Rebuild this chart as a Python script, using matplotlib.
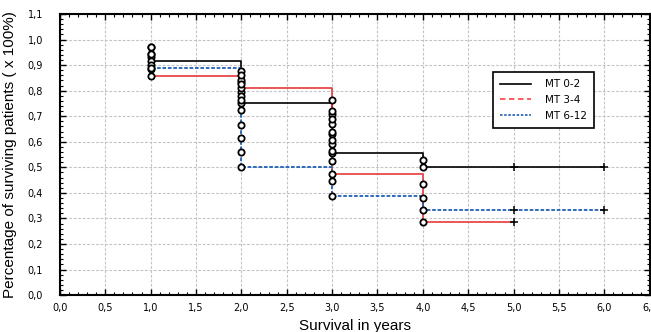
import matplotlib
matplotlib.use('Agg')
import matplotlib.pyplot as plt
from matplotlib.ticker import MultipleLocator, FuncFormatter

# step curves (time in years, survival fraction)
t_steps = [1, 1, 2, 3, 4]
mt02 = [0.97, 0.915, 0.753, 0.555, 0.5]
mt34 = [0.885, 0.857, 0.81, 0.475, 0.285]
mt612 = [0.97, 0.888, 0.5, 0.388, 0.333]
end_02, end_34, end_612 = 6.0, 5.0, 6.0

# observed events (circles)
ev02_t = [1, 1, 1, 1, 2, 2, 2, 2, 3, 3, 3, 3, 3, 4, 4]
ev02_s = [0.97, 0.945, 0.93, 0.915, 0.875, 0.835, 0.795, 0.753,
          0.71, 0.67, 0.63, 0.59, 0.555, 0.53, 0.5]
ev34_t = [1, 1, 2, 2, 3, 3, 3, 3, 3, 3, 3, 3, 4, 4, 4]
ev34_s = [0.885, 0.857, 0.843, 0.81, 0.765, 0.72, 0.69, 0.64, 0.608,
          0.565, 0.525, 0.475, 0.435, 0.38, 0.285]
ev612_t = [1, 1, 1, 1, 2, 2, 2, 2, 2, 2, 2, 2, 2, 3, 3, 4]
ev612_s = [0.97, 0.945, 0.9, 0.888, 0.86, 0.827, 0.78, 0.765, 0.725,
           0.667, 0.616, 0.561, 0.5, 0.447, 0.388, 0.333]

# censored (+)
cens_t = [5, 6, 5, 6, 5]
cens_s = [0.5, 0.5, 0.333, 0.333, 0.285]

labels = ['MT 0-2', 'MT 3-4', 'MT 6-12']

fig = plt.figure(figsize=(6.51, 3.32), dpi=100)
ax = fig.add_axes([0.092, 0.111, 0.906, 0.847])

ax.plot(t_steps + [end_02], mt02 + [mt02[-1]], drawstyle='steps-post',
        color='black', lw=1.2, zorder=3)
ax.plot(t_steps + [end_34], mt34 + [mt34[-1]], drawstyle='steps-post',
        color='#e83a3a', lw=1.2, zorder=3)
ax.plot(t_steps + [end_612], mt612 + [mt612[-1]], drawstyle='steps-post',
        color='#1f5fb5', lw=1.3, ls=(0, (2, 1)), zorder=4)

for tt, ss in [(ev02_t, ev02_s), (ev34_t, ev34_s), (ev612_t, ev612_s)]:
    ax.plot(tt, ss, 'o', ms=4.5, mfc='white', mec='black', mew=1.3, zorder=5)
ax.plot(cens_t, cens_s, '+', ms=6, color='black', mew=1.1, zorder=5)

# legend proxies
h1, = ax.plot([], [], color='black', lw=1.2)
h2, = ax.plot([], [], color='#ff4d4d', lw=1.3, ls=(0, (3, 2)))
h3, = ax.plot([], [], color='#1f5fb5', lw=1.2, ls=(0, (1.5, 1)))
leg = ax.legend([h1, h2, h3], labels, loc='upper left',
                bbox_to_anchor=(0.734, 0.794), borderaxespad=0,
                fancybox=False, framealpha=1,
                edgecolor='black', fontsize=7.5, handlelength=3,
                borderpad=0.7, labelspacing=0.55, handletextpad=1.3)
leg.get_frame().set_linewidth(1.2)

ax.set_xlim(0, 6.5)
ax.set_ylim(0, 1.1)
ax.xaxis.set_major_locator(MultipleLocator(0.5))
ax.yaxis.set_major_locator(MultipleLocator(0.1))
ax.xaxis.set_minor_locator(MultipleLocator(0.1))
ax.yaxis.set_minor_locator(MultipleLocator(0.02))
fmt = FuncFormatter(lambda v, p: ('%.1f' % v).replace('.', ','))
ax.xaxis.set_major_formatter(fmt)
ax.yaxis.set_major_formatter(fmt)
ax.tick_params(which='both', direction='in', top=True, right=True,
               labelsize=7)
ax.tick_params(axis='x', pad=6)
ax.tick_params(axis='y', pad=12)
ax.tick_params(which='major', length=4, width=1)
ax.tick_params(which='minor', length=2.5, width=0.8)
ax.grid(True, which='major', color='#c4c4c4', ls=(0, (2.5, 1.5)), lw=0.8)
for sp in ax.spines.values():
    sp.set_linewidth(1.5)

ax.set_xlabel('Survival in years', fontsize=11, family='Liberation Sans', labelpad=4)
ax.set_ylabel('Percentage of surviving patients ( x 100%)', fontsize=11,
              family='Liberation Sans', labelpad=8)

fig.savefig('out.png', dpi=100)
